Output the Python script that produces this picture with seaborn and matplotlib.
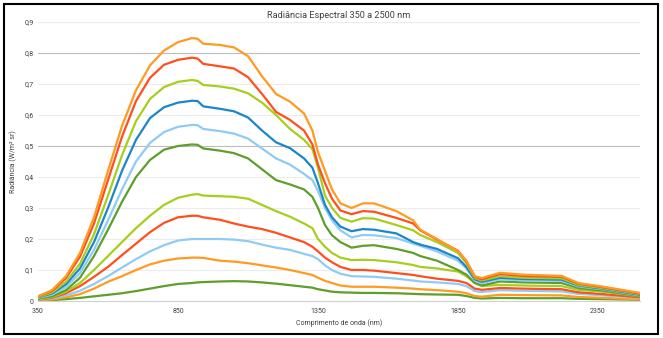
import matplotlib
matplotlib.use("Agg")
import matplotlib.pyplot as plt
import seaborn as sns
import pandas as pd
from matplotlib.patches import Rectangle
from matplotlib.ticker import FuncFormatter

wavelength = [350, 400, 450, 500, 550, 600, 650, 700, 750, 800, 850, 900, 920, 940,
              1000, 1050, 1100, 1150, 1200, 1250, 1300, 1330, 1350, 1375, 1400, 1430,
              1470, 1510, 1550, 1630, 1690, 1715, 1775, 1850, 1880, 1910, 1935, 2000,
              2080, 2220, 2280, 2370, 2500]

s01 = [0.015, 0.035, 0.08, 0.155, 0.27, 0.42, 0.565, 0.68, 0.76, 0.808, 0.835, 0.848, 0.846, 0.83,
       0.826, 0.818, 0.79, 0.725, 0.668, 0.643, 0.605, 0.55, 0.48, 0.42, 0.36, 0.315,
       0.30, 0.315, 0.315, 0.29, 0.26, 0.23, 0.20, 0.16, 0.13, 0.08, 0.074, 0.091,
       0.085, 0.081, 0.058, 0.046, 0.026]
s02 = [0.015, 0.032, 0.074, 0.143, 0.25, 0.39, 0.53, 0.645, 0.72, 0.762, 0.778, 0.785, 0.782, 0.765,
       0.757, 0.75, 0.722, 0.668, 0.61, 0.584, 0.55, 0.505, 0.44, 0.38, 0.33, 0.292,
       0.28, 0.29, 0.288, 0.268, 0.25, 0.228, 0.198, 0.162, 0.128, 0.078, 0.07, 0.087,
       0.081, 0.078, 0.056, 0.044, 0.024]
s03 = [0.013, 0.027, 0.062, 0.12, 0.215, 0.34, 0.47, 0.58, 0.652, 0.69, 0.707, 0.713, 0.71, 0.697,
       0.692, 0.685, 0.67, 0.64, 0.60, 0.555, 0.52, 0.49, 0.43, 0.34, 0.30, 0.268,
       0.256, 0.267, 0.266, 0.245, 0.228, 0.213, 0.19, 0.155, 0.122, 0.074, 0.066, 0.08,
       0.075, 0.073, 0.052, 0.041, 0.022]
s04 = [0.012, 0.024, 0.054, 0.105, 0.19, 0.30, 0.42, 0.52, 0.59, 0.625, 0.64, 0.646, 0.645, 0.628,
       0.62, 0.612, 0.592, 0.55, 0.512, 0.493, 0.46, 0.43, 0.38, 0.31, 0.27, 0.24,
       0.225, 0.232, 0.23, 0.218, 0.19, 0.182, 0.168, 0.138, 0.11, 0.07, 0.062, 0.075,
       0.071, 0.069, 0.05, 0.039, 0.02]
s05 = [0.01, 0.02, 0.045, 0.09, 0.165, 0.26, 0.36, 0.45, 0.51, 0.545, 0.562, 0.568, 0.567, 0.555,
       0.548, 0.54, 0.524, 0.492, 0.46, 0.44, 0.41, 0.39, 0.355, 0.30, 0.26, 0.228,
       0.205, 0.213, 0.212, 0.203, 0.185, 0.178, 0.16, 0.13, 0.105, 0.066, 0.058, 0.07,
       0.067, 0.065, 0.047, 0.037, 0.018]
s06 = [0.008, 0.015, 0.035, 0.075, 0.145, 0.23, 0.32, 0.40, 0.455, 0.488, 0.50, 0.505, 0.504, 0.492,
       0.485, 0.477, 0.46, 0.425, 0.39, 0.376, 0.36, 0.336, 0.30, 0.245, 0.212, 0.19,
       0.172, 0.178, 0.18, 0.168, 0.155, 0.145, 0.13, 0.10, 0.085, 0.058, 0.05, 0.063,
       0.06, 0.058, 0.042, 0.033, 0.016]
s07 = [0.005, 0.012, 0.03, 0.058, 0.10, 0.145, 0.19, 0.235, 0.275, 0.31, 0.333, 0.343, 0.345, 0.34,
       0.338, 0.336, 0.33, 0.31, 0.29, 0.272, 0.25, 0.235, 0.20, 0.175, 0.155, 0.14,
       0.132, 0.133, 0.132, 0.125, 0.116, 0.11, 0.105, 0.095, 0.08, 0.058, 0.048, 0.052,
       0.05, 0.048, 0.036, 0.03, 0.015]
s08 = [0.004, 0.01, 0.025, 0.048, 0.078, 0.11, 0.148, 0.185, 0.222, 0.252, 0.27, 0.275, 0.275, 0.27,
       0.262, 0.25, 0.24, 0.232, 0.22, 0.205, 0.19, 0.175, 0.16, 0.14, 0.125, 0.11,
       0.10, 0.10, 0.098, 0.09, 0.084, 0.08, 0.072, 0.065, 0.058, 0.04, 0.036, 0.042,
       0.04, 0.038, 0.028, 0.022, 0.012]
s09 = [0.003, 0.008, 0.018, 0.033, 0.055, 0.08, 0.108, 0.135, 0.16, 0.18, 0.195, 0.20, 0.20, 0.20,
       0.20, 0.198, 0.193, 0.182, 0.172, 0.165, 0.152, 0.145, 0.135, 0.115, 0.10, 0.088,
       0.08, 0.079, 0.078, 0.072, 0.066, 0.063, 0.06, 0.055, 0.048, 0.032, 0.029, 0.035,
       0.033, 0.031, 0.023, 0.018, 0.01]
s10 = [0.002, 0.005, 0.012, 0.022, 0.04, 0.062, 0.08, 0.10, 0.118, 0.13, 0.137, 0.14, 0.14, 0.139,
       0.13, 0.127, 0.122, 0.115, 0.108, 0.10, 0.09, 0.084, 0.075, 0.065, 0.058, 0.05,
       0.046, 0.046, 0.046, 0.043, 0.04, 0.038, 0.035, 0.03, 0.025, 0.016, 0.014, 0.02,
       0.019, 0.018, 0.013, 0.01, 0.005]
s11 = [0.001, 0.003, 0.006, 0.01, 0.015, 0.02, 0.025, 0.032, 0.04, 0.048, 0.055, 0.058, 0.06, 0.061,
       0.063, 0.064, 0.063, 0.06, 0.056, 0.051, 0.046, 0.043, 0.038, 0.034, 0.03, 0.028,
       0.027, 0.026, 0.026, 0.025, 0.023, 0.022, 0.021, 0.02, 0.016, 0.01, 0.008, 0.01,
       0.009, 0.009, 0.007, 0.006, 0.004]

series = {"S1": s01, "S2": s02, "S3": s03, "S4": s04, "S5": s05, "S6": s06,
          "S7": s07, "S8": s08, "S9": s09, "S10": s10, "S11": s11}
colors = ["#FF9A22", "#FF4F1C", "#A6CE1C", "#1B86C9", "#8FCBF4", "#5E9E2B",
          "#A6CE1C", "#FF4F1C", "#8FCBF4", "#FF9A22", "#5E9E2B"]

x_ticks = [350, 850, 1350, 1850, 2350]
y_ticks = [0, 0.1, 0.2, 0.3, 0.4, 0.5, 0.6, 0.7, 0.8, 0.9]

title = "Radiância Espectral 350 a 2500 nm"
xlabel = "Comprimento de onda (nm)"
ylabel = "Radiância (W/m² sr)"

rows = []
for name, vals in series.items():
    for w, v in zip(wavelength, vals):
        rows.append({"wl": w, "val": v, "serie": name})
df = pd.DataFrame(rows)

sns.set_theme(style="white")
plt.rcParams["font.family"] = ["Roboto", "DejaVu Sans"]

fig = plt.figure(figsize=(6.63, 3.38), dpi=100)
ax = fig.add_axes([38 / 663, 1 - 301 / 338, (640 - 38) / 663, (301 - 22) / 338])

order = list(series.keys())[::-1]
pal = dict(zip(series.keys(), colors))
sns.lineplot(data=df, x="wl", y="val", hue="serie", hue_order=order, palette=pal,
             linewidth=1.6, legend=False, ax=ax)

ax.set_xlim(350, 2500)
ax.set_ylim(0, 0.9)
ax.set_xticks(x_ticks)
ax.set_yticks(y_ticks)
ax.yaxis.set_major_formatter(FuncFormatter(lambda v, p: "0" if v == 0 else f"{v:.1f}".replace(".", ",")))
for yv in y_ticks[1:]:
    c = "#bdbdbd" if round(yv, 1) in (0.5, 0.8) else "#ececec"
    ax.axhline(yv, color=c, linewidth=0.8, zorder=0)
for s in ["left", "right", "top"]:
    ax.spines[s].set_visible(False)
ax.spines["bottom"].set_color("#d0d0d0")
ax.spines["bottom"].set_linewidth(0.8)
ax.tick_params(axis="both", labelsize=5, colors="#404040", length=0, pad=3)
ax.tick_params(axis="x", length=2, color="#d0d0d0")

ax.set_title(title, fontsize=6.6, color="#404040", pad=3)
ax.set_xlabel(xlabel, fontsize=5, color="#404040", labelpad=3)
ax.set_ylabel(ylabel, fontsize=5, color="#404040", labelpad=5)

fig.patches.append(Rectangle((0.006, 0.012), 0.986, 0.976, transform=fig.transFigure,
                             fill=False, edgecolor="black", linewidth=1.5))

fig.savefig("out.png", dpi=100, facecolor="white")
